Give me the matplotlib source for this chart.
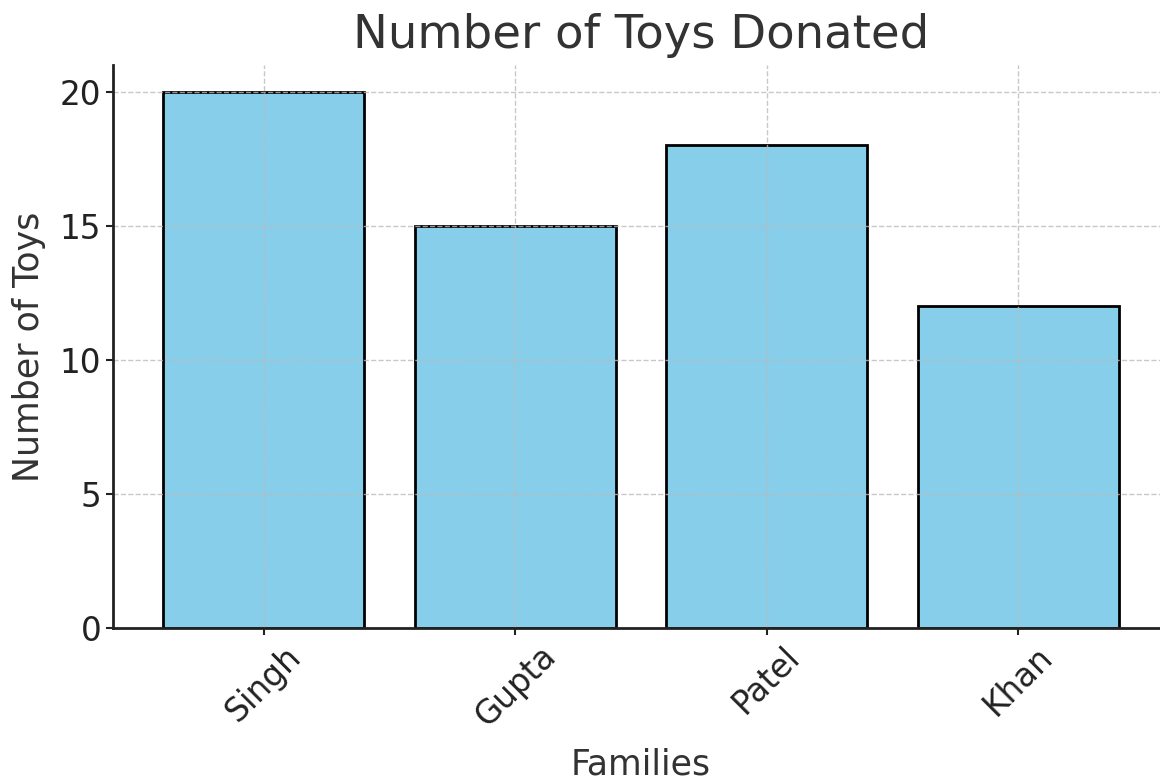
import matplotlib.pyplot as plt

families = ['Singh', 'Gupta', 'Patel', 'Khan']
toys = [20, 15, 18, 12]

fig = plt.figure(figsize=(11.6, 7.8), dpi=100)
ax = fig.add_axes([113 / 1160, 1 - 628 / 780, (1169 - 113) / 1160, (628 - 65) / 780])

ax.bar(families, toys, color='skyblue', edgecolor='black', linewidth=2, width=0.8)
ax.set_xlim(-0.6, 3.6)
ax.set_ylim(0, 21)
ax.set_yticks([0, 5, 10, 15, 20])

ax.grid(True, linestyle='--', color='#bbbbbb', linewidth=1, alpha=0.8)

ax.set_title('Number of Toys Donated', fontsize=33.5, color='#333333', pad=12)
ax.set_xlabel('Families', fontsize=25, color='#333333', labelpad=10)
ax.set_ylabel('Number of Toys', fontsize=25, color='#333333', labelpad=10)
ax.tick_params(axis='both', labelsize=23.5, colors='#222222', length=5, width=1.5)
plt.setp(ax.get_xticklabels(), rotation=45)

for s in ['top', 'right']:
    ax.spines[s].set_visible(False)
for s in ['left', 'bottom']:
    ax.spines[s].set_linewidth(2)
    ax.spines[s].set_color('#222222')

fig.savefig('out.png')
